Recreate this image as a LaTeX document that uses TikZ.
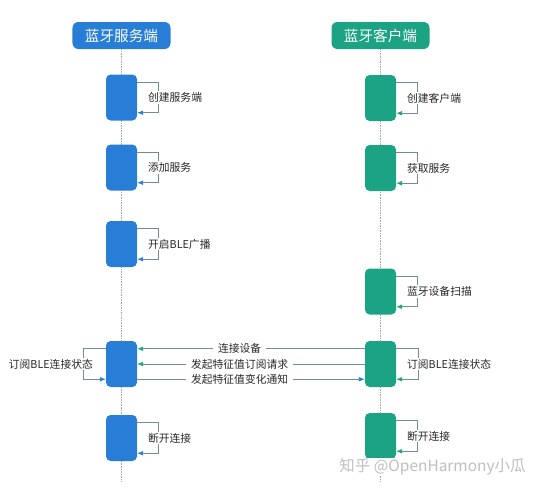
\documentclass[tikz,border=0pt]{standalone}
\usepackage{fontspec}
\setmainfont{Noto Sans CJK SC}
\usetikzlibrary{arrows.meta,calc}

\definecolor{srvblue}{RGB}{40,126,214}
\definecolor{cligreen}{RGB}{27,163,131}
\definecolor{msgline}{RGB}{112,140,160}
\definecolor{lbltext}{RGB}{40,40,40}

\tikzset{
  head/.style={fill=#1, rounded corners=5, text=white, minimum width=2.94cm,
    minimum height=0.81cm, inner sep=0pt, font=\fontsize{12.5}{14}\selectfont},
  act/.style={fill=#1, rounded corners=4, minimum width=0.93cm,
    minimum height=1.38cm, inner sep=0pt},
  life/.style={gray!70, densely dotted, thin},
  msg/.style={msgline, line width=0.6pt, -{Latex[length=5pt,width=4pt,color=#1]}},
  lbl/.style={fill=white, text=lbltext, inner xsep=4pt, inner ysep=1pt,
    font=\fontsize{9.2}{11}\selectfont}
}

\begin{document}
\begin{tikzpicture}[x=0.03cm, y=-0.03cm]
    \useasboundingbox (0,0) rectangle (537,500);

    % headers and lifelines
    \node[head=srvblue] (S) at (121.5,35.5) {蓝牙服务端};
    \node[head=cligreen] (C) at (380.5,35.5) {蓝牙客户端};
    \coordinate (Send) at (121.5,482);
    \coordinate (Cend) at (380.5,482);
    \draw[life] (S) -- (Send);
    \draw[life] (C) -- (Cend);

    % server side
    \node[act=srvblue] (s1) at (121.5,97.5) {};
    \node[act=srvblue] (s2) at (121.5,167.5) {};
    \node[act=srvblue] (s3) at (121.5,244) {};
    \node[act=srvblue] (s4) at (121.5,364) {};
    \node[act=srvblue] (s5) at (121.5,438) {};

    % client side
    \node[act=cligreen] (c1) at (380.5,98) {};
    \node[act=cligreen] (c2) at (380.5,168) {};
    \node[act=cligreen] (c3) at (380.5,291.5) {};
    \node[act=cligreen] (c4) at (380.5,364) {};
    \node[act=cligreen] (c5) at (380.5,436) {};

    % self calls
    \draw[msg=srvblue] ($(s1.north east)+(0,8)$) -- ++(21,0) |- ($(s1.south east)+(0,-8)$);
    \node[lbl, anchor=west] (s1t) at ($(s1.east)+(6,0)$) {创建服务端};
    \draw[msg=srvblue] ($(s2.north east)+(0,8)$) -- ++(21,0) |- ($(s2.south east)+(0,-8)$);
    \node[lbl, anchor=west] (s2t) at ($(s2.east)+(6,0)$) {添加服务};
    \draw[msg=srvblue] ($(s3.north east)+(0,8)$) -- ++(21,0) |- ($(s3.south east)+(0,-8)$);
    \node[lbl, anchor=west] (s3t) at ($(s3.east)+(6,0)$) {开启BLE广播};
    \draw[msg=srvblue] ($(s4.north west)+(0,8)$) -- ++(-22,0) |- ($(s4.south west)+(0,-8)$);
    \node[lbl, anchor=east] (s4t) at ($(s4.west)+(-8,0)$) {订阅BLE连接状态};
    \draw[msg=srvblue] ($(s5.north east)+(0,8)$) -- ++(21,0) |- ($(s5.south east)+(0,-8)$);
    \node[lbl, anchor=west] (s5t) at ($(s5.east)+(6,0)$) {断开连接};

    \draw[msg=cligreen] ($(c1.north east)+(0,8)$) -- ++(21,0) |- ($(c1.south east)+(0,-8)$);
    \node[lbl, anchor=west] (c1t) at ($(c1.east)+(6,0)$) {创建客户端};
    \draw[msg=cligreen] ($(c2.north east)+(0,8)$) -- ++(21,0) |- ($(c2.south east)+(0,-8)$);
    \node[lbl, anchor=west] (c2t) at ($(c2.east)+(6,0)$) {获取服务};
    \draw[msg=cligreen] ($(c3.north east)+(0,8)$) -- ++(21,0) |- ($(c3.south east)+(0,-8)$);
    \node[lbl, anchor=west] (c3t) at ($(c3.east)+(6,0)$) {蓝牙设备扫描};
    \draw[msg=cligreen] ($(c4.north east)+(0,8)$) -- ++(22,0) |- ($(c4.south east)+(0,-8)$);
    \node[lbl, anchor=west] (c4t) at ($(c4.east)+(6,0)$) {订阅BLE连接状态};
    \draw[msg=cligreen] ($(c5.north east)+(0,8)$) -- ++(21,0) |- ($(c5.south east)+(0,-8)$);
    \node[lbl, anchor=west] (c5t) at ($(c5.east)+(6,0)$) {断开连接};

    % messages
    \draw[msg=cligreen] ($(c4.north west)+(0,8)$) -- node[lbl, pos=0.55] {连接设备} ($(s4.north east)+(0,8)$);
    \draw[msg=cligreen] (c4.west) -- node[lbl, pos=0.55] {发起特征值订阅请求} (s4.east);
    \draw[msg=srvblue] ($(s4.south east)+(0,-8)$) -- node[lbl, pos=0.45] {发起特征值变化通知} ($(c4.south west)+(0,-8)$);

    \node[fill=white, text=gray!50, anchor=east, inner sep=1pt,
      font=\fontsize{13.2}{15}\selectfont] (wm) at (527,467) {知乎 @OpenHarmony小瓜};
\end{tikzpicture}
\end{document}
